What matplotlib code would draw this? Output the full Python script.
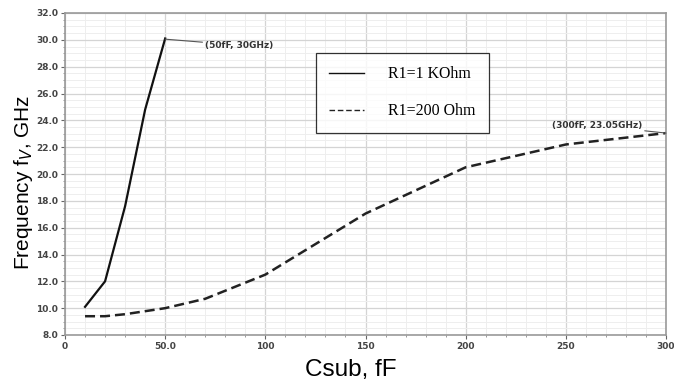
import matplotlib
matplotlib.use("Agg")
import matplotlib.pyplot as plt
from matplotlib.ticker import MultipleLocator, FixedLocator

# substrate capacitance (fF) vs frequency (GHz)
csub_1k = [10, 20, 30, 40, 50]
freq_1k = [10.1, 12.0, 17.6, 24.8, 30.1]

csub_200 = [10, 20, 30, 50, 70, 100, 150, 200, 250, 300]
freq_200 = [9.4, 9.4, 9.55, 10.0, 10.7, 12.5, 17.05, 20.5, 22.2, 23.05]

xticks = [0, 50, 100, 150, 200, 250, 300]
xlabels = ["0", "50.0", "100", "150", "200", "250", "300"]
yticks = [8, 10, 12, 14, 16, 18, 20, 22, 24, 26, 28, 30, 32]

fig = plt.figure(figsize=(6.74, 3.81), dpi=100)
ax = fig.add_axes([65 / 674, 46 / 381, 601 / 674, 322 / 381])

ax.plot(csub_1k, freq_1k, color="#111111", lw=1.6, label="R1=1 KOhm")
ax.plot(csub_200, freq_200, color="#222222", lw=1.8, ls=(0, (4, 2)), label="R1=200 Ohm")

ax.set_xlim(0, 300)
ax.set_ylim(8, 32)
ax.xaxis.set_major_locator(FixedLocator(xticks))
ax.set_xticklabels(xlabels)
ax.xaxis.set_minor_locator(MultipleLocator(10))
ax.yaxis.set_major_locator(FixedLocator(yticks))
ax.set_yticklabels(["%.1f" % v for v in yticks])
ax.yaxis.set_minor_locator(MultipleLocator(0.5))

ax.grid(which="major", color="#d4d4d4", lw=0.9)
ax.grid(which="minor", color="#eeeeee", lw=0.7)
ax.set_axisbelow(True)

for s in ["top", "right", "left", "bottom"]:
    ax.spines[s].set_color("#999999")
    ax.spines[s].set_linewidth(1.2)

ax.tick_params(which="major", length=3, color="#666666", labelsize=6.5,
               labelcolor="#444444", pad=2)
ax.tick_params(which="minor", length=1.5, color="#888888")
for lab in ax.get_xticklabels() + ax.get_yticklabels():
    lab.set_fontweight("bold")

ax.set_xlabel("Csub, fF", fontsize=17.5, family="Liberation Sans")
ax.xaxis.label.set_va("center")
ax.xaxis.set_label_coords(286 / 601, -35 / 322)
ax.set_ylabel(r"Frequency f$_V$, GHz", fontsize=15, family="Liberation Sans")
ax.yaxis.label.set_va("center")
ax.yaxis.set_label_coords(-41 / 601, 153 / 322)

ax.annotate("(50fF, 30GHz)", xy=(50, 30.05), xytext=(70, 29.6),
            fontsize=6.5, fontweight="bold", color="#333333", va="center",
            arrowprops=dict(arrowstyle="-", color="#555555", lw=0.8, shrinkA=0, shrinkB=0))
ax.annotate("(300fF, 23.05GHz)", xy=(300, 23.05), xytext=(288, 23.6),
            fontsize=6.5, fontweight="bold", color="#333333", va="center", ha="right",
            arrowprops=dict(arrowstyle="-", color="#555555", lw=0.8, shrinkA=0, shrinkB=0),
            annotation_clip=False)

leg = ax.legend(loc="upper left", bbox_to_anchor=(251 / 601, 1 - 40 / 322),
                prop={"family": "Liberation Serif", "size": 11.4},
                frameon=True, fancybox=False, edgecolor="black",
                handlelength=2.15, handletextpad=1.55, labelspacing=1.3,
                borderpad=0.85, borderaxespad=0)
leg.get_frame().set_linewidth(0.9)
for h in leg.get_lines():
    h.set_linewidth(1.0)

fig.savefig("out.png", dpi=100)
